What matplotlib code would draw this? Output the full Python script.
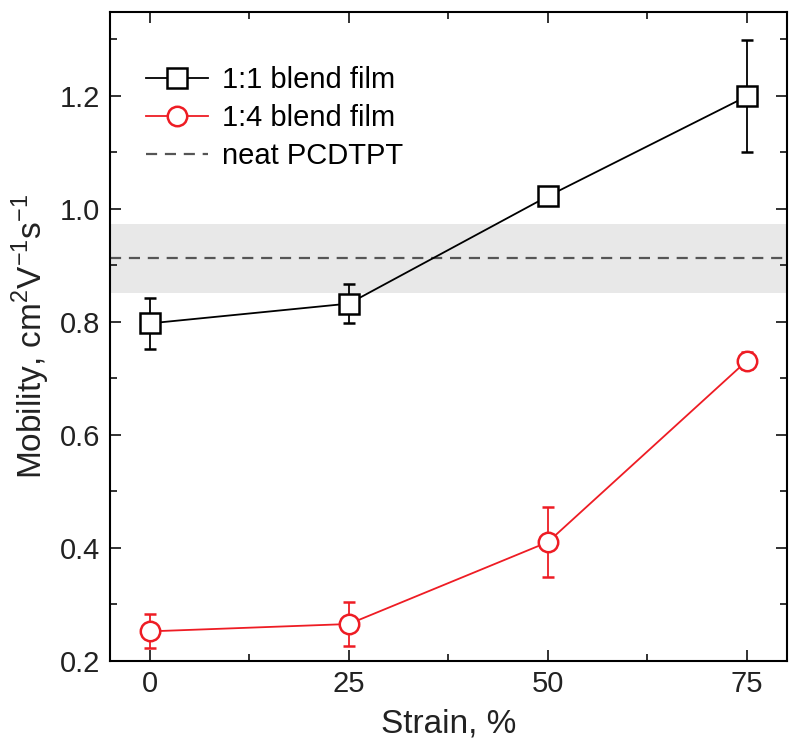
import matplotlib
matplotlib.use("Agg")
import matplotlib.pyplot as plt
from matplotlib.lines import Line2D
from matplotlib.ticker import MultipleLocator

plt.rcParams['font.family'] = ['Liberation Sans', 'DejaVu Sans']
plt.rcParams['mathtext.fontset'] = 'custom'
plt.rcParams['mathtext.rm'] = 'Liberation Sans'

# data
strain = [0, 25, 50, 75]
mob_11 = [0.797, 0.832, 1.022, 1.199]
err_11 = [0.045, 0.034, 0.0, 0.099]
mob_14 = [0.252, 0.265, 0.410, 0.731]
err_14 = [0.030, 0.039, 0.062, 0.015]
neat_mean = 0.913
neat_lo = 0.851
neat_hi = 0.973

red = '#ee1c24'

fig = plt.figure(figsize=(8, 7.5), dpi=100)
ax = fig.add_axes([0.1375, 0.119, 0.846, 0.865])

# neat film band + mean
ax.axhspan(neat_lo, neat_hi, color='#e8e8e8', lw=0, zorder=0)
ax.axhline(neat_mean, color='#555555', ls=(0, (5, 3.5)), lw=1.6, zorder=1)

ax.errorbar(strain, mob_11, yerr=err_11, color='black', lw=1.3,
            marker='s', ms=14, mfc='white', mec='black', mew=1.8,
            capsize=4.5, elinewidth=1.3, capthick=1.3, zorder=3)
ax.errorbar(strain, mob_14, yerr=err_14, color=red, lw=1.3,
            marker='o', ms=14, mfc='white', mec=red, mew=1.8,
            capsize=4.5, elinewidth=1.3, capthick=1.3, zorder=3)

ax.set_xlim(-5, 80)
ax.set_ylim(0.2, 1.348)
ax.xaxis.set_major_locator(MultipleLocator(25))
ax.xaxis.set_minor_locator(MultipleLocator(12.5))
ax.yaxis.set_major_locator(MultipleLocator(0.2))
ax.yaxis.set_minor_locator(MultipleLocator(0.1))
ax.yaxis.set_major_formatter(plt.FuncFormatter(lambda v, p: '%.1f' % v))
ax.tick_params(which='both', direction='in', top=True, right=True,
               labelsize=21, width=1.3, colors='#222222')
ax.tick_params(which='major', length=8, pad=7)
ax.tick_params(which='minor', length=5)
for s in ax.spines.values():
    s.set_linewidth(1.5)

ax.set_xlabel('Strain, %', fontsize=24, labelpad=7, color='#222222')
ax.set_ylabel(r'Mobility, cm$^{\mathregular{2}}$V$^{\mathregular{-1}}$s$^{\mathregular{-1}}$',
              fontsize=24, labelpad=6, color='#222222')

handles = [
    Line2D([], [], color='black', lw=1.3, marker='s', ms=14, mfc='white',
           mec='black', mew=1.8),
    Line2D([], [], color=red, lw=1.3, marker='o', ms=14, mfc='white',
           mec=red, mew=1.8),
    Line2D([], [], color='#555555', lw=1.6, ls=(0, (5, 3.5))),
]
labels = ['1:1 blend film', '1:4 blend film', 'neat PCDTPT']
ax.legend(handles, labels, loc='upper left', frameon=False, fontsize=21,
          bbox_to_anchor=(0.028, 0.944), handlelength=2.1,
          labelspacing=0.35, handletextpad=0.5, borderaxespad=0.2)

fig.savefig('out.png', dpi=100)
